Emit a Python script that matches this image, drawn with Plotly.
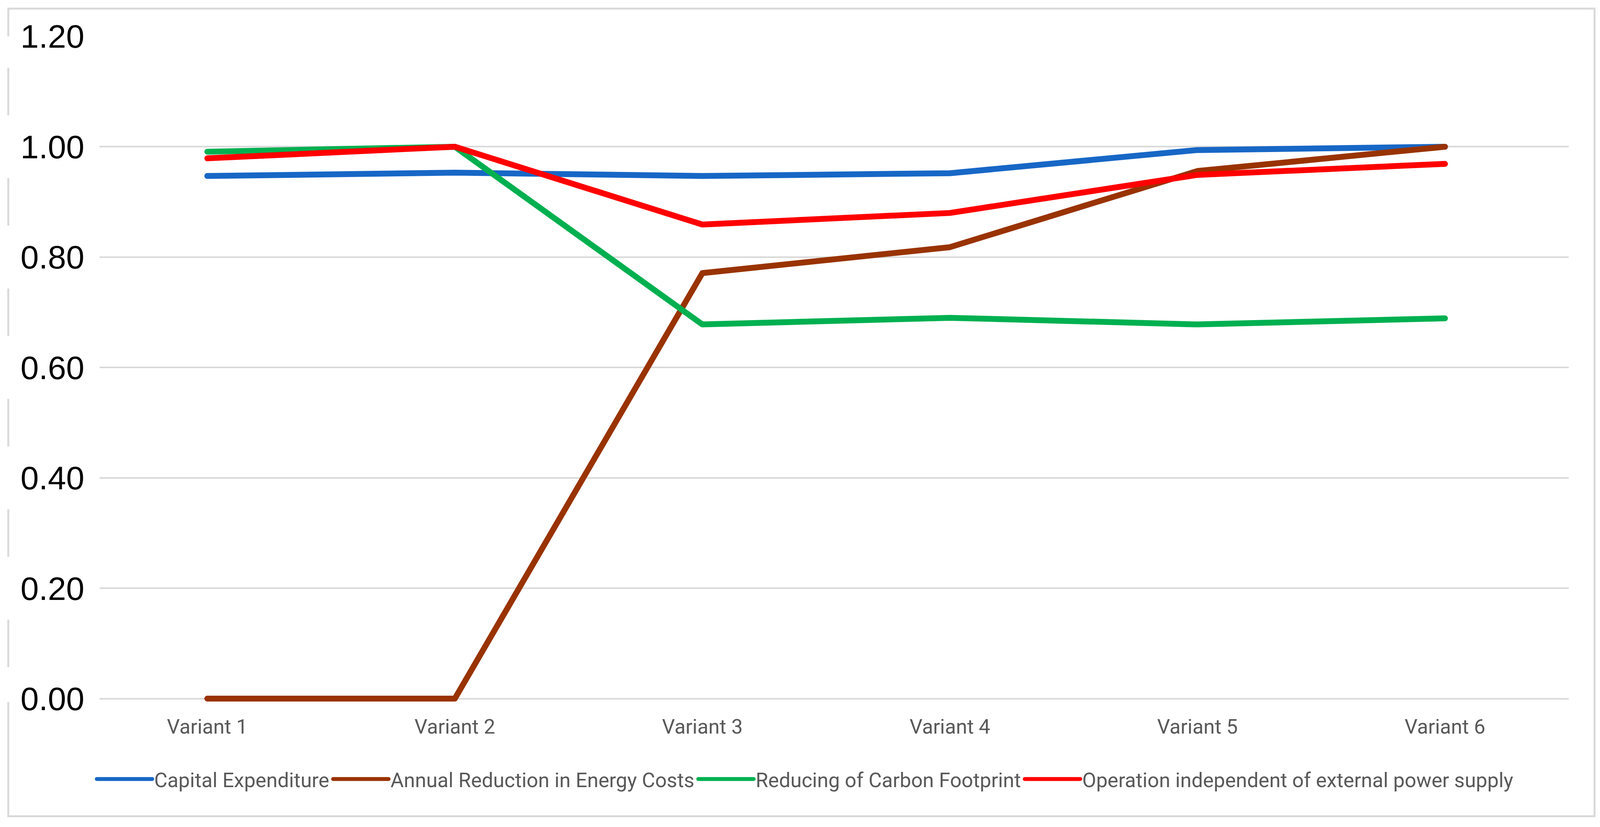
import plotly.graph_objects as go

categories = ["Variant 1", "Variant 2", "Variant 3", "Variant 4", "Variant 5", "Variant 6"]
capital_expenditure = [0.947, 0.953, 0.947, 0.952, 0.994, 1.000]
annual_reduction = [0.000, 0.000, 0.771, 0.818, 0.956, 1.000]
carbon_footprint = [0.991, 1.000, 0.678, 0.690, 0.678, 0.689]
operation_independent = [0.979, 1.000, 0.859, 0.880, 0.949, 0.969]
y_ticks = [0.0, 0.2, 0.4, 0.6, 0.8, 1.0, 1.2]

series = [
    ("Capital Expenditure", capital_expenditure, "#1767C6"),
    ("Annual Reduction in Energy Costs", annual_reduction, "#993300"),
    ("Reducing of Carbon Footprint", carbon_footprint, "#00B050"),
    ("Operation independent of external power supply", operation_independent, "#FF0000"),
]

# The browser viewport is 4096 px wide; lay the 4345-px-wide design out horizontally scaled to fit.
REF_W = 4345
W, H = 4096, 2116
k = W / REF_W

def sx(p):
    return p * k

Y_LOW = -0.006          # a little room below zero so the zero-valued line is not clipped
UNIT = 1413             # pixels per 1.0 on the value axis
EXTRA = (-Y_LOW) * UNIT
L = sx(271)
R = W - sx(4260)
T = 93
B = H - (1788 + EXTRA)
pw, ph = W - L - R, H - T - B

def px_x(p):
    return (sx(p) - L) / pw

def px_y(p):
    return (H - B - p) / ph

fig = go.Figure()
for name, vals, color in series:
    fig.add_trace(go.Scatter(
        x=categories, y=vals, name=name, mode="lines",
        line=dict(color=color, width=15),
        cliponaxis=False,
    ))

shapes = [dict(type="rect", xref="paper", yref="paper",
               x0=px_x(23), x1=px_x(4330), y0=px_y(2089), y1=px_y(22),
               line=dict(color="#D9D9D9", width=5), fillcolor="rgba(0,0,0,0)",
               layer="below")]
for v in y_ticks:
    shapes.append(dict(type="rect", xref="paper", yref="y",
                       x0=px_x(0), x1=px_x(272), y0=v - 0.057, y1=v + 0.057,
                       line=dict(width=0), fillcolor="white", layer="below"))

fig.update_layout(
    width=W, height=H,
    margin=dict(l=L, r=R, t=T, b=B, autoexpand=False),
    paper_bgcolor="white", plot_bgcolor="white",
    showlegend=True,
    legend=dict(
        orientation="h", x=px_x(258), xanchor="left",
        y=px_y(1994), yanchor="middle",
        font=dict(family="Roboto", size=52, color="#595959"),
        itemwidth=142, tracegroupgap=0,
        bgcolor="rgba(0,0,0,0)",
    ),
    shapes=shapes,
    xaxis=dict(
        type="category", range=[-0.435, 5.5],
        showgrid=False, zeroline=False, showline=False, ticks="",
        tickfont=dict(family="Roboto", size=52, color="#595959"),
        ticklabelstandoff=int(round(36 - EXTRA)),
    ),
    yaxis=dict(
        range=[Y_LOW, 1.2], tickvals=y_ticks, tickformat=".2f",
        showgrid=True, gridcolor="#D9D9D9", gridwidth=4,
        zeroline=True, zerolinecolor="#D9D9D9", zerolinewidth=4,
        showline=False, ticks="",
        tickfont=dict(family="Liberation Sans, Arial", size=84, color="black"),
        ticklabelstandoff=38,
    ),
)

page_fix = (
    "document.body.style.margin='0';document.body.style.overflow='hidden';"
    "var st=document.createElement('style');"
    "st.textContent='path.js-line{stroke-linecap:round;stroke-linejoin:round;}';"
    "document.head.appendChild(st);"
)

fig.write_html("out.html", post_script=page_fix, config={"displayModeBar": False})
